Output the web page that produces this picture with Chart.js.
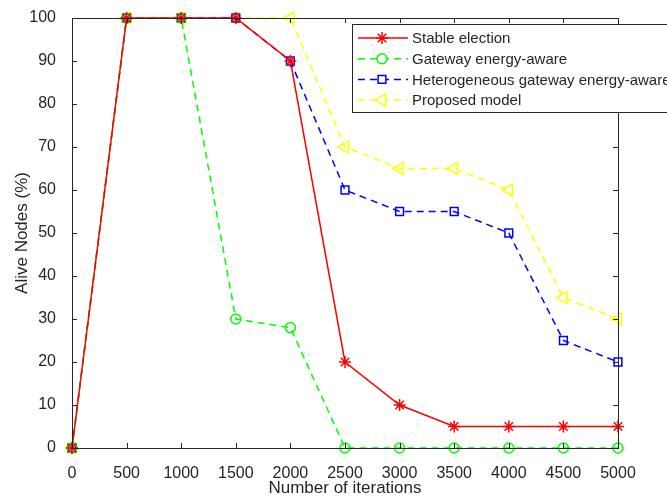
<!DOCTYPE html>
<html>
<head>
<meta charset="utf-8">
<script src="https://cdn.jsdelivr.net/npm/chart.js@4/dist/chart.umd.min.js"></script>
<style>
  html, body { margin: 0; padding: 0; background: #fff; }
  #wrap { width: 667px; height: 501px; }
</style>
</head>
<body>
<div id="wrap"><canvas id="myChart" width="667" height="501"></canvas></div>
<script>
const iterations = [0, 500, 1000, 1500, 2000, 2500, 3000, 3500, 4000, 4500, 5000];
const stableElection = [0, 100, 100, 100, 90, 20, 10, 5, 5, 5, 5];
const gatewayAware = [0, 100, 100, 30, 28, 0, 0, 0, 0, 0, 0];
const heteroAware = [0, 100, 100, 100, 90, 60, 55, 55, 50, 25, 20];
const proposedModel = [0, 100, 100, 100, 100, 70, 65, 65, 60, 35, 30];
const seriesNames = ["Stable election", "Gateway energy-aware", "Heterogeneous gateway energy-aware", "Proposed model"];

const axisColor = "#262626";
const fontFamily = "'Liberation Sans', Arial, sans-serif";

function pts(vals) {
  return iterations.map((x, i) => ({ x: x, y: vals[i] }));
}

const styles = [
  { color: "#ff0000", dash: [], point: "star", radius: 6, rotation: 0 },
  { color: "#00ff00", dash: [7, 5], point: "circle", radius: 5, rotation: 0 },
  { color: "#0000ff", dash: [7, 5], point: "rect", radius: 5.5, rotation: 0 },
  { color: "#ffff00", dash: [7, 5], point: "triangle", radius: 7, rotation: -90 }
];

const allValues = [stableElection, gatewayAware, heteroAware, proposedModel];

const datasets = allValues.map((vals, i) => ({
  label: seriesNames[i],
  data: pts(vals),
  borderColor: styles[i].color,
  backgroundColor: "rgba(0,0,0,0)",
  borderWidth: 1.5,
  borderDash: styles[i].dash,
  pointStyle: styles[i].point,
  pointRadius: styles[i].radius,
  pointRotation: styles[i].rotation,
  pointBorderColor: styles[i].color,
  pointBackgroundColor: "rgba(0,0,0,0)",
  pointBorderWidth: 1.5,
  tension: 0,
  clip: false
}));

// matlab-like box with inward ticks + legend
const boxPlugin = {
  id: "boxPlugin",
  afterDatasetsDraw(chart) {
    const ctx = chart.ctx;
    const a = chart.chartArea;
    const xs = chart.scales.x, ys = chart.scales.y;
    ctx.save();
    ctx.strokeStyle = axisColor;
    ctx.lineWidth = 1;
    ctx.setLineDash([]);
    ctx.strokeRect(Math.round(a.left) + 0.5, Math.round(a.top) + 0.5,
      Math.round(a.right - a.left), Math.round(a.bottom - a.top));
    const tl = 5;
    ctx.beginPath();
    xs.ticks.forEach(t => {
      const px = Math.round(xs.getPixelForValue(t.value)) + 0.5;
      ctx.moveTo(px, a.bottom); ctx.lineTo(px, a.bottom - tl);
      ctx.moveTo(px, a.top); ctx.lineTo(px, a.top + tl);
    });
    ys.ticks.forEach(t => {
      const py = Math.round(ys.getPixelForValue(t.value)) + 0.5;
      ctx.moveTo(a.left, py); ctx.lineTo(a.left + tl, py);
      ctx.moveTo(a.right, py); ctx.lineTo(a.right - tl, py);
    });
    ctx.stroke();

    // legend
    const lx = 352.5, ly = 24.5, lw = 330, lh = 88;
    ctx.fillStyle = "#fff";
    ctx.fillRect(lx, ly, lw, lh);
    ctx.strokeStyle = axisColor;
    ctx.strokeRect(lx, ly, lw, lh);
    ctx.font = "15px " + fontFamily;
    ctx.textBaseline = "middle";
    seriesNames.forEach((name, i) => {
      const y = 38 + i * 20.7;
      const st = styles[i];
      ctx.strokeStyle = st.color;
      ctx.lineWidth = 1.5;
      ctx.setLineDash(st.dash);
      ctx.beginPath();
      ctx.moveTo(358, y); ctx.lineTo(408, y);
      ctx.stroke();
      ctx.setLineDash([]);
      ctx.fillStyle = "#fff";
      Chart.helpers.drawPoint(ctx, {
        pointStyle: st.point, radius: st.radius, rotation: st.rotation, borderWidth: 1.5
      }, 382, y);
      ctx.fillStyle = axisColor;
      ctx.fillText(name, 412, y + 1);
    });
    ctx.restore();
  }
};

const config = {
  type: "line",
  data: { datasets: datasets },
  options: {
    responsive: false,
    animation: false,
    layout: { padding: { left: 0, top: 18, right: 49, bottom: 0 } },
    scales: {
      x: {
        type: "linear",
        min: 0,
        max: 5000,
        grid: { display: false },
        border: { display: false },
        ticks: {
          stepSize: 500,
          padding: 8,
          maxRotation: 0,
          color: axisColor,
          callback: v => String(v),
          font: { family: fontFamily, size: 16 }
        },
        title: {
          display: true,
          text: "Number of iterations",
          color: axisColor,
          padding: { top: 0, bottom: 2 },
          font: { family: fontFamily, size: 17 }
        },
        afterFit: s => { s.height = 53; }
      },
      y: {
        min: 0,
        max: 100,
        grid: { display: false },
        border: { display: false },
        ticks: {
          stepSize: 10,
          padding: 8,
          color: axisColor,
          font: { family: fontFamily, size: 16 }
        },
        title: {
          display: true,
          text: "Alive Nodes (%)",
          color: axisColor,
          padding: { top: 12, bottom: 0 },
          font: { family: fontFamily, size: 17 }
        },
        afterFit: s => { s.width = 72; }
      }
    },
    plugins: {
      legend: { display: false },
      tooltip: { enabled: false }
    }
  },
  plugins: [boxPlugin]
};

const myChart = new Chart(document.getElementById("myChart").getContext("2d"), config);
</script>
</body>
</html>
